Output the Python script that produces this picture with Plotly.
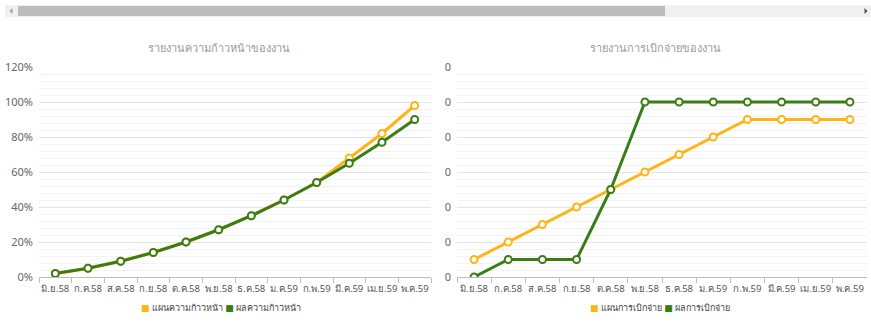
import plotly.graph_objects as go

# Months (Thai fiscal-style labels)
months = ["มิ.ย.58", "ก.ค.58", "ส.ค.58", "ก.ย.58", "ต.ค.58", "พ.ย.58",
          "ธ.ค.58", "ม.ค.59", "ก.พ.59", "มี.ค.59", "เม.ย.59", "พ.ค.59"]

# Work progress (fraction of total)
progress_plan = [0.02, 0.05, 0.09, 0.14, 0.20, 0.27, 0.35, 0.44, 0.54, 0.68, 0.82, 0.98]
progress_actual = [0.02, 0.05, 0.09, 0.14, 0.20, 0.27, 0.35, 0.44, 0.54, 0.65, 0.77, 0.90]

# Disbursement
disburse_plan = [0.1, 0.2, 0.3, 0.4, 0.5, 0.6, 0.7, 0.8, 0.9, 0.9, 0.9, 0.9]
disburse_actual = [0.0, 0.1, 0.1, 0.1, 0.5, 1.0, 1.0, 1.0, 1.0, 1.0, 1.0, 1.0]

# Value axis ticks of the disbursement chart (integer-formatted labels)
disburse_tickvals = [0.0, 0.2, 0.4, 0.6, 0.8, 1.0, 1.2]
disburse_ticktext = ["0", "0", "0", "0", "0", "0", "0"]

titles = ["รายงานความก้าวหน้าของงาน", "รายงานการเบิกจ่ายของงาน"]
legend_names = [["แผนความก้าวหน้า", "ผลความก้าวหน้า"],
                ["แผนการเบิกจ่าย", "ผลการเบิกจ่าย"]]

ORANGE = "#FDB515"
GREEN = "#3A7D14"
W, H = 871, 322
FONT = "Tahoma, 'Noto Sans', 'DejaVu Sans', sans-serif"


def px_x(v):
    return v / W


def px_y(v):
    return 1 - v / H


fig = go.Figure()

series = [
    ("x", "y", progress_plan, ORANGE),
    ("x", "y", progress_actual, GREEN),
    ("x2", "y2", disburse_plan, ORANGE),
    ("x2", "y2", disburse_actual, GREEN),
]
for xa, ya, vals, col in series:
    fig.add_trace(go.Scatter(
        x=months, y=vals, xaxis=xa, yaxis=ya, mode="lines+markers",
        line=dict(color=col, width=3),
        marker=dict(size=7, color="white", line=dict(color=col, width=2)),
        showlegend=False, hoverinfo="x+y",
    ))

axis_common = dict(
    type="category", range=[-0.5, 11.5], showgrid=False, automargin=False,
    showline=True, linecolor="#bdbdbd", linewidth=1, tickangle=0,
    ticks="outside", tickson="boundaries", ticklen=5, tickcolor="#bdbdbd",
    ticklabelstandoff=3,
    tickfont=dict(size=9.5, color="#555555", family=FONT), fixedrange=True,
)
yaxis_common = dict(
    range=[0, 1.2], showgrid=True, gridcolor="#e4e4e4", gridwidth=1,
    zeroline=False, showline=False, ticks="", automargin=False,
    ticklabelstandoff=5,
    minor=dict(dtick=0.04, showgrid=True, gridcolor="#f3f3f3", gridwidth=1),
    tickfont=dict(size=11, color="#666666", family=FONT), fixedrange=True,
)

y_bottom = px_y(277)
y_top = px_y(67)

fig.update_layout(
    width=W, height=H, margin=dict(l=0, r=0, t=0, b=0),
    paper_bgcolor="white", plot_bgcolor="white",
    font=dict(family=FONT),
    xaxis=dict(domain=[px_x(39), px_x(431)], anchor="y", **axis_common),
    yaxis=dict(domain=[y_bottom, y_top], anchor="x", tickformat=".0%", dtick=0.2,
               **yaxis_common),
    xaxis2=dict(domain=[px_x(457), px_x(867)], anchor="y2", **axis_common),
    yaxis2=dict(domain=[y_bottom, y_top], anchor="x2", tickmode="array",
                tickvals=disburse_tickvals, ticktext=disburse_ticktext,
                **yaxis_common),
)

# Chart titles
for cx, t in zip([219, 655], titles):
    fig.add_annotation(x=px_x(cx), y=px_y(47), xref="paper", yref="paper",
                       xanchor="center", yanchor="middle",
                       text=t, showarrow=False,
                       font=dict(size=11, color="#9a9a9a", family=FONT))

# Legends under each chart
for cx, names in zip([221, 660], legend_names):
    txt = (f'<span style="color:{ORANGE}">■</span> {names[0]} '
           f'<span style="color:{GREEN}">■</span> {names[1]}')
    fig.add_annotation(x=px_x(cx), y=px_y(307), xref="paper", yref="paper",
                       xanchor="center", yanchor="middle",
                       text=txt, showarrow=False,
                       font=dict(size=9, color="#444444", family=FONT))

# Horizontal scrollbar across the top
shapes = [
    dict(type="rect", xref="paper", yref="paper", x0=px_x(5), x1=1,
         y0=px_y(17), y1=px_y(5), fillcolor="#f0f0f0", line=dict(width=0)),
    dict(type="rect", xref="paper", yref="paper", x0=px_x(18), x1=px_x(665),
         y0=px_y(16), y1=px_y(6), fillcolor="#bcbcbc", line=dict(width=0)),
    dict(type="path", xref="paper", yref="paper",
         path=f"M {px_x(12.5)} {px_y(8)} L {px_x(9.5)} {px_y(11)} L {px_x(12.5)} {px_y(14)} Z",
         fillcolor="#a0a0a0", line=dict(width=0)),
    dict(type="path", xref="paper", yref="paper",
         path=f"M {px_x(864.5)} {px_y(8)} L {px_x(867.5)} {px_y(11)} L {px_x(864.5)} {px_y(14)} Z",
         fillcolor="#505050", line=dict(width=0)),
]
fig.update_layout(shapes=shapes)

fig.write_html("out.html")
